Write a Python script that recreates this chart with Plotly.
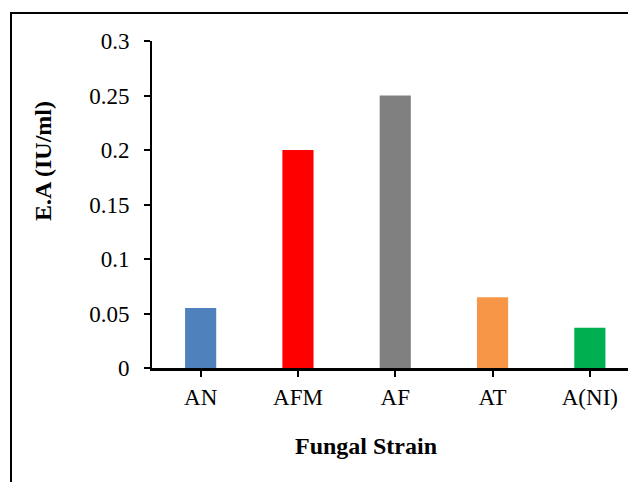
import plotly.graph_objects as go

categories = ["AN", "AFM", "AF", "AT", "A(NI)"]
values = [0.055, 0.2, 0.25, 0.065, 0.037]
colors = ["#4F81BD", "#FF0000", "#808080", "#F79646", "#00B050"]
y_ticks = [0, 0.05, 0.1, 0.15, 0.2, 0.25, 0.3]
y_tick_labels = ["0", "0.05", "0.1", "0.15", "0.2", "0.25", "0.3"]

W, H = 628, 482
L, T, B = 152, 41, 114
pw = W - L
ph = H - T - B

def px(x):
    return (x - L) / pw

def py(y):
    return (H - B - y) / ph

fig = go.Figure(go.Bar(x=categories, y=values, marker_color=colors,
                       marker_line_width=0, width=0.32))

family = "Liberation Serif, Times New Roman, serif"
tick_font = dict(family=family, size=23, color="black")
title_font = dict(family=family, size=24, color="black")

fig.update_layout(
    width=W, height=H,
    margin=dict(l=L, r=0, t=T, b=B),
    paper_bgcolor="white", plot_bgcolor="white",
    showlegend=False,
    font=tick_font,
    xaxis=dict(range=[-0.5, -0.5 + pw / 97.3], showline=True, linecolor="black",
               linewidth=2.5, ticks="outside", ticklen=6, tickwidth=2,
               tickcolor="black", showgrid=False, ticklabelstandoff=1,
               tickfont=tick_font),
    yaxis=dict(range=[0, 0.3], tickvals=y_ticks, ticktext=y_tick_labels,
               showline=True, linecolor="black", linewidth=2, ticks="outside",
               ticklen=6, tickwidth=2, tickcolor="black", showgrid=False,
               zeroline=False, ticklabelstandoff=10, tickfont=tick_font),
    shapes=[
        dict(type="rect", xref="paper", yref="paper",
             x0=px(11), x1=px(700), y0=py(13), y1=py(560),
             line=dict(color="black", width=2), fillcolor="rgba(0,0,0,0)",
             layer="below"),
    ],
    annotations=[
        dict(text="<b>E.A (IU/ml)</b>", xref="paper", yref="paper",
             x=px(43), y=py(161), textangle=-90, showarrow=False,
             font=title_font, xanchor="center", yanchor="middle"),
        dict(text="<b>Fungal Strain</b>", xref="paper", yref="paper",
             x=px(366), y=py(446), showarrow=False,
             font=title_font, xanchor="center", yanchor="middle"),
    ],
)

fig.write_html("out.html")
